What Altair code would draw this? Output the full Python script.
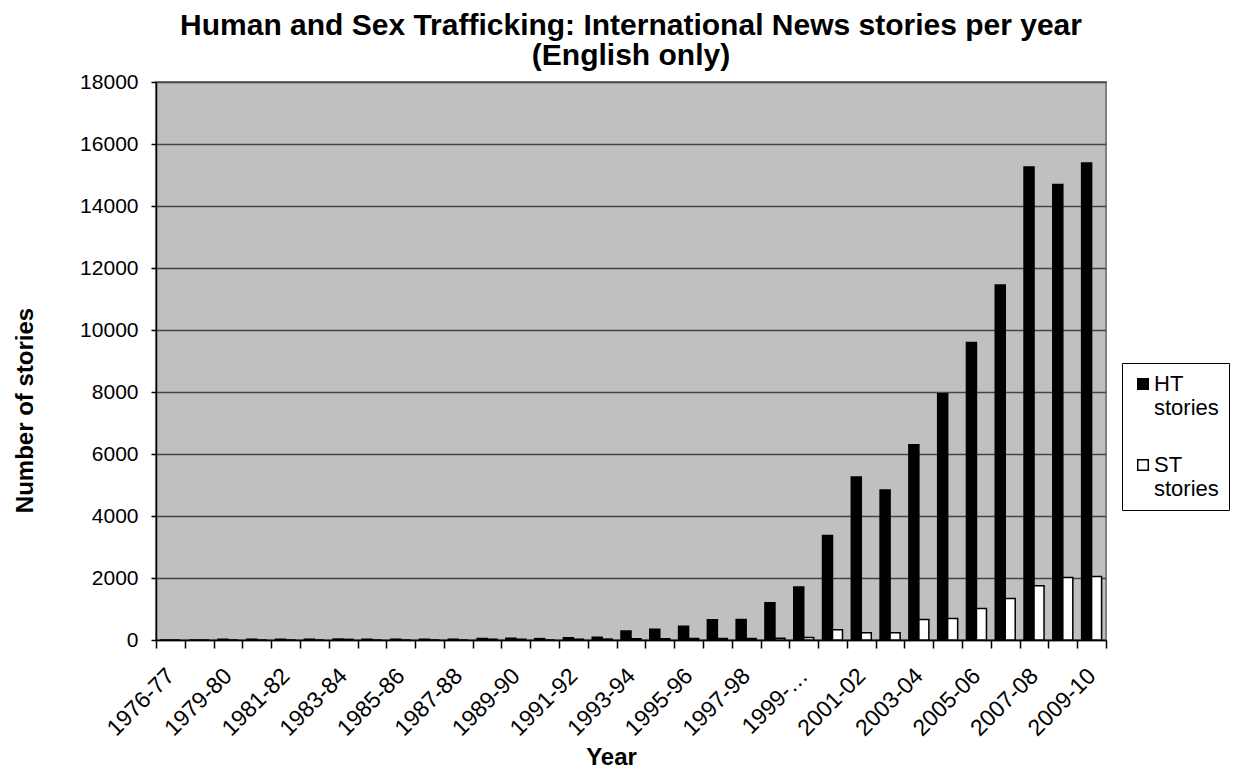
import json
import altair as alt
import pandas as pd

categories = [
    "1976-77", "1978-79", "1979-80", "1980-81", "1981-82", "1982-83", "1983-84",
    "1984-85", "1985-86", "1986-87", "1987-88", "1988-89", "1989-90", "1990-91",
    "1991-92", "1992-93", "1993-94", "1994-95", "1995-96", "1996-97", "1997-98",
    "1998-99", "1999-2000", "2000-01", "2001-02", "2002-03", "2003-04", "2004-05",
    "2005-06", "2006-07", "2007-08", "2008-09", "2009-10",
]
ht_stories = [
    0, 0, 25, 25, 25, 25, 30, 25, 25, 25, 25, 50, 60, 45, 75, 90, 290, 350,
    440, 650, 660, 1200, 1710, 3370, 5260, 4840, 6300, 7940, 9600, 11450,
    15260, 14690, 15390,
]
st_stories = [
    0, 0, 0, 0, 0, 0, 20, 0, 0, 0, 0, 25, 25, 0, 25, 30, 40, 40, 50, 50, 50,
    60, 80, 330, 230, 230, 660, 690, 1020, 1340, 1750, 2020, 2050,
]
series = ["HT stories", "ST stories"]
y_ticks = [0, 2000, 4000, 6000, 8000, 10000, 12000, 14000, 16000, 18000]

rows = []
for c, h, s in zip(categories, ht_stories, st_stories):
    rows.append({"Year": c, "Series": series[0], "Stories": h})
    rows.append({"Year": c, "Series": series[1], "Stories": s})
df = pd.DataFrame(rows)

cats_js = json.dumps(categories)
label_expr = (
    f"indexof({cats_js}, datum.value) % 2 == 0 ? "
    "(length(datum.label) > 7 ? slice(datum.label, 0, 5) + '\u2026' : datum.label) : ''"
)

FONT = "Liberation Sans"

chart = (
    alt.Chart(df)
    .mark_bar(stroke="black", strokeWidth=1.5)
    .encode(
        x=alt.X(
            "Year:N",
            sort=categories,
            scale=alt.Scale(paddingInner=0, paddingOuter=0),
            axis=alt.Axis(
                title="Year",
                labelAngle=-45,
                labelAlign="right",
                labelBaseline="middle",
                labelExpr=label_expr,
                labelOverlap=False,
                labelFontSize=23,
                labelFont=FONT,
                labelColor="black",
                labelPadding=24,
                tickBand="extent",
                tickSize=8,
                tickColor="black",
                tickWidth=1.5,
                domainColor="black",
                domainWidth=1.5,
                titleFont=FONT,
                titleFontSize=24,
                titleFontWeight="bold",
                titleX=455,
                titleY=117,
                titleBaseline="middle",
                titleColor="black",
            ),
        ),
        xOffset=alt.XOffset(
            "Series:N",
            sort=series,
            scale=alt.Scale(paddingInner=0, paddingOuter=0.44),
        ),
        y=alt.Y(
            "Stories:Q",
            scale=alt.Scale(domain=[0, 18000], nice=False),
            axis=alt.Axis(
                values=y_ticks,
                format="d",
                title="Number of stories",
                grid=True,
                gridColor="#444444",
                gridWidth=1.5,
                labelFontSize=21,
                labelFont=FONT,
                labelColor="black",
                labelPadding=13,
                tickSize=5,
                tickColor="black",
                tickWidth=1.5,
                domainColor="black",
                domainWidth=1.5,
                titleFont=FONT,
                titleFontSize=24,
                titleFontWeight="bold",
                titleColor="black",
                titleX=-131,
                titleY=328,
                titleBaseline="middle",
            ),
        ),
        fill=alt.Color(
            "Series:N",
            sort=series,
            scale=alt.Scale(domain=series, range=["black", "white"]),
            legend=alt.Legend(
                title=None,
                orient="none",
                legendX=966,
                legendY=281,
                strokeColor="black",
                fillColor="white",
                padding=10,
                labelFont=FONT,
                labelFontSize=22,
                labelColor="black",
                labelExpr="split(datum.label, ' ')",
                symbolType="square",
                symbolSize=110,
                symbolStrokeColor="black",
                symbolStrokeWidth=1.5,
                rowPadding=35,
                labelOffset=0,
            ),
        ),
    )
    .properties(
        width=950,
        height=558,
        background="white",
        title=alt.Title(
            ["Human and Sex Trafficking: International News stories per year", "(English only)"],
            font=FONT,
            fontSize=30,
            fontWeight="bold",
            color="black",
            lineHeight=30,
            offset=0,
            anchor="middle",
        ),
        autosize="none",
        padding={"left": 156, "top": 82, "right": 130, "bottom": 130},
    )
    .configure_view(fill="#C0C0C0", stroke="#808080", strokeWidth=2)
)

chart.save("out.html", embed_options={"renderer": "svg", "actions": False})
